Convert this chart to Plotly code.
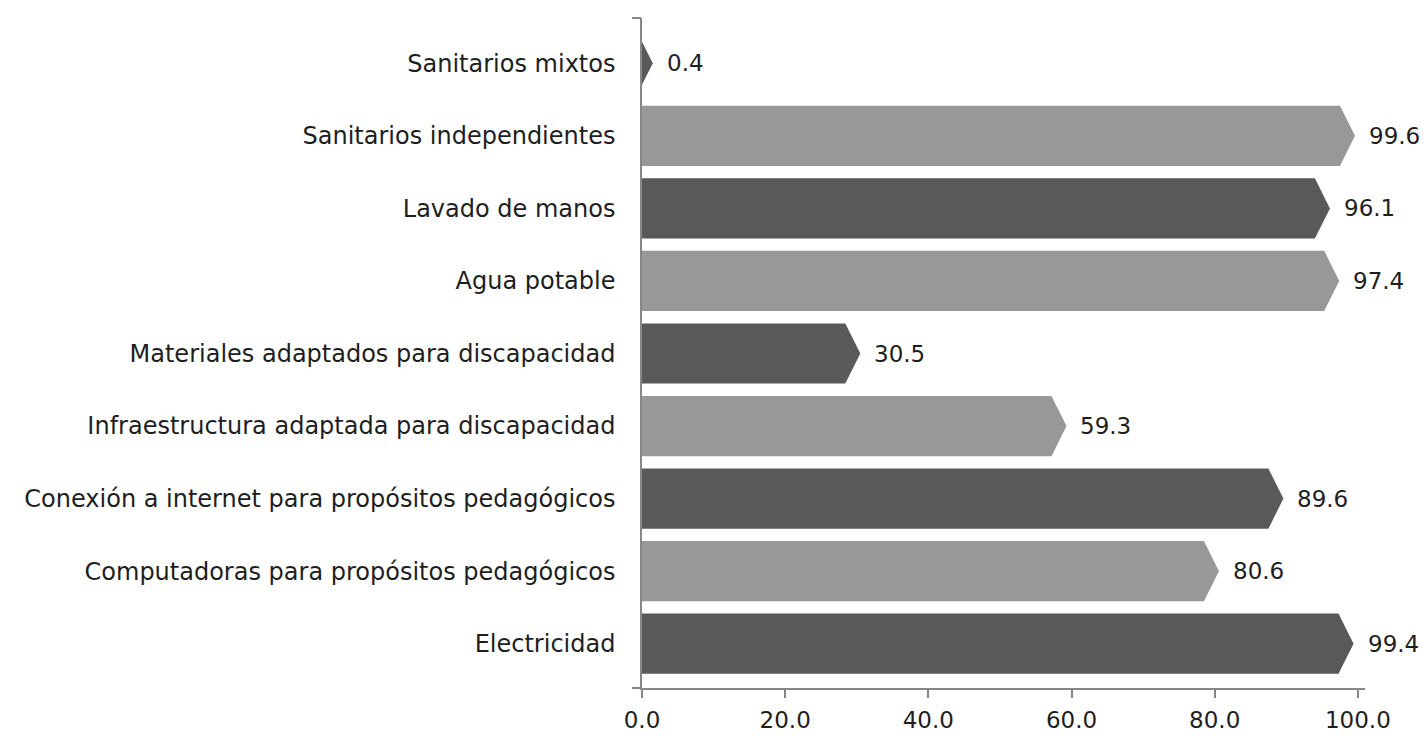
import plotly.graph_objects as go

categories = [
    "Sanitarios mixtos",
    "Sanitarios independientes",
    "Lavado de manos",
    "Agua potable",
    "Materiales adaptados para discapacidad",
    "Infraestructura adaptada para discapacidad",
    "Conexión a internet para propósitos pedagógicos",
    "Computadoras para propósitos pedagógicos",
    "Electricidad",
]
values = [0.4, 99.6, 96.1, 97.4, 30.5, 59.3, 89.6, 80.6, 99.4]
x_ticks = [0, 20, 40, 60, 80, 100]
x_tick_labels = ["0.0", "20.0", "40.0", "60.0", "80.0", "100.0"]

DARK = "#595959"
LIGHT = "#989898"
AXIS = "#878787"
FONT = "DejaVu Sans"
FS = 23
FS_CAT = 24
TXT = "#1e1e1e"

HALF_H = 0.415      # half bar height in category units
DEPTH = 2.1         # arrow point depth in x units
MIN_W = 1.5         # minimum visible arrow width

fig = go.Figure()
n = len(categories)
for i, (cat, v) in enumerate(zip(categories, values)):
    color = LIGHT if i % 2 == 1 else DARK
    tip = max(v, MIN_W)
    if tip > DEPTH:
        body = tip - DEPTH
        xs = [0, body, tip, body, 0, 0]
        ys = [i - HALF_H, i - HALF_H, i, i + HALF_H, i + HALF_H, i - HALF_H]
    else:
        hh = HALF_H * tip / DEPTH
        xs = [0, tip, 0, 0]
        ys = [i - hh, i, i + hh, i - hh]
    fig.add_trace(go.Scatter(
        x=xs, y=ys, mode="lines", fill="toself",
        fillcolor=color, line=dict(width=0, color=color),
        hoverinfo="text", text=f"{cat}: {v:.1f}", showlegend=False,
    ))
    fig.add_annotation(
        x=tip, y=i, xref="x", yref="y", text=f"{v:.1f}",
        showarrow=False, xanchor="left", yanchor="middle", xshift=12,
        font=dict(family=FONT, size=FS, color=TXT),
    )

y_lo = -0.5 - 9 / 72.6
y_hi = n - 0.5 + 8 / 72.6

# page body has an 8px margin, so the figure is sized and offset to compensate
fig.update_layout(
    width=1419, height=728,
    margin=dict(l=634, r=62, t=10, b=48, autoexpand=False),
    paper_bgcolor="white", plot_bgcolor="white",
    font=dict(family=FONT, size=FS, color=TXT),
    xaxis=dict(
        range=[0, 101], tickvals=x_ticks, ticktext=x_tick_labels,
        showgrid=False, zeroline=False, showline=True, linecolor=AXIS, linewidth=1.5,
        ticks="outside", ticklen=8, tickwidth=1.5, tickcolor=AXIS,
        ticklabelstandoff=3, automargin=False,
        tickfont=dict(family=FONT, size=FS, color=TXT),
    ),
    yaxis=dict(
        range=[y_hi, y_lo], tickvals=list(range(n)), ticktext=categories,
        showgrid=False, zeroline=False, showline=True, linecolor=AXIS, linewidth=1.5,
        ticks="", ticklabelstandoff=20, automargin=False,
        tickfont=dict(family=FONT, size=FS_CAT, color=TXT),
    ),
    yaxis2=dict(
        overlaying="y", matches="y", side="left",
        tickvals=[y_lo, y_hi], showticklabels=False,
        ticks="outside", ticklen=9, tickwidth=1.5, tickcolor=AXIS,
        showgrid=False, zeroline=False, showline=False, automargin=False,
    ),
)
# invisible trace to activate yaxis2
fig.add_trace(go.Scatter(x=[0], y=[0], yaxis="y2", mode="markers",
                         marker=dict(opacity=0), hoverinfo="skip", showlegend=False))

fig.write_html("out.html")
